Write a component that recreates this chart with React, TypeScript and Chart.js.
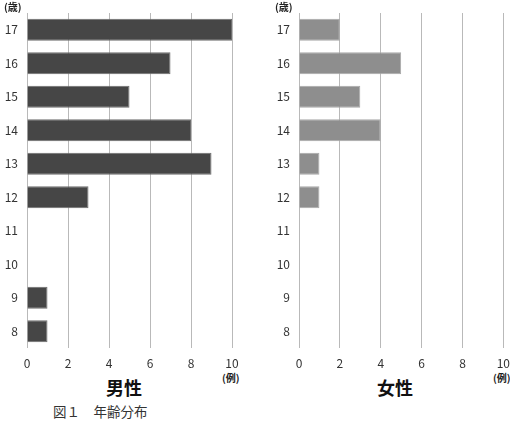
import React, { useEffect, useRef } from "react";
import { Chart, registerables } from "chart.js";

Chart.register(...registerables);

const ageLabels = ["17", "16", "15", "14", "13", "12", "11", "10", "9", "8"];
const maleCounts = [10, 7, 5, 8, 9, 3, 0, 0, 1, 1];
const femaleCounts = [2, 5, 3, 4, 1, 1, 0, 0, 0, 0];
const xTickMax = 10;
const xTickStep = 2;

const FONT = "'Noto Sans CJK JP', 'Noto Sans', sans-serif";

function makeConfig(values: number[], fill: string, border: string, padRight: number): any {
  return {
    type: "bar",
    data: {
      labels: ageLabels,
      datasets: [
        {
          data: values,
          backgroundColor: fill,
          borderColor: border,
          borderWidth: 1,
          categoryPercentage: 1,
          barPercentage: 0.66,
        },
      ],
    },
    options: {
      indexAxis: "y",
      responsive: false,
      animation: false,
      devicePixelRatio: 1,
      layout: { padding: { top: 13, right: padRight, bottom: 0, left: 0 } },
      plugins: { legend: { display: false }, tooltip: { enabled: false }, title: { display: false } },
      scales: {
        x: {
          min: 0,
          max: xTickMax,
          ticks: { stepSize: xTickStep, color: "#333", font: { family: FONT, size: 12 }, padding: 8 },
          grid: { color: "#b9b9b9", lineWidth: 1, drawTicks: false },
          border: { display: false },
          afterFit: (s: any) => {
            s.height = 22;
          },
        },
        y: {
          ticks: { color: "#333", font: { family: FONT, size: 12, lineHeight: 0.3 }, padding: 9 },
          grid: { display: false, drawTicks: false },
          border: { display: false },
          afterFit: (s: any) => {
            s.width = 27;
          },
        },
      },
    },
  };
}

function BarPanel(props: { values: number[]; fill: string; border: string; width: number; padRight: number }) {
  const ref = useRef<HTMLCanvasElement | null>(null);
  useEffect(() => {
    if (!ref.current) return;
    const chart = new Chart(ref.current, makeConfig(props.values, props.fill, props.border, props.padRight));
    return () => chart.destroy();
  }, []);
  return <canvas ref={ref} width={props.width} height={370} style={{ display: "block" }} />;
}

const abs = (left: number, top: number, extra: any = {}): any => ({
  position: "absolute",
  left,
  top,
  whiteSpace: "nowrap",
  fontFamily: FONT,
  lineHeight: 1,
  ...extra,
});

export default function App() {
  useEffect(() => {
    document.body.style.margin = "0";
  }, []);
  return (
    <div style={{ position: "fixed", left: 0, top: 0, width: 510, height: 425, overflow: "hidden", background: "#fff" }}>
      <div style={{ position: "absolute", left: 0, top: 0 }}>
        <BarPanel values={maleCounts} fill="#464646" border="#6e6e6e" width={250} padRight={18} />
      </div>
      <div style={{ position: "absolute", left: 272, top: 0 }}>
        <BarPanel values={femaleCounts} fill="#8e8e8e" border="#a8a8a8" width={246} padRight={0} />
      </div>
      <div style={abs(4, 2, { fontSize: 10, fontWeight: "bold", color: "#222" })}>(歳)</div>
      <div style={abs(275, 2, { fontSize: 10, fontWeight: "bold", color: "#222" })}>(歳)</div>
      <div style={abs(222, 373, { fontSize: 10, fontWeight: "bold", color: "#222" })}>(例)</div>
      <div style={abs(493, 373, { fontSize: 10, fontWeight: "bold", color: "#222" })}>(例)</div>
      <div style={abs(106, 378, { fontSize: 18, fontWeight: "bold", color: "#111" })}>男性</div>
      <div style={abs(377, 378, { fontSize: 18, fontWeight: "bold", color: "#111" })}>女性</div>
      <div style={abs(53, 405, { fontSize: 13.5, color: "#333" })}>図１　年齢分布</div>
    </div>
  );
}
